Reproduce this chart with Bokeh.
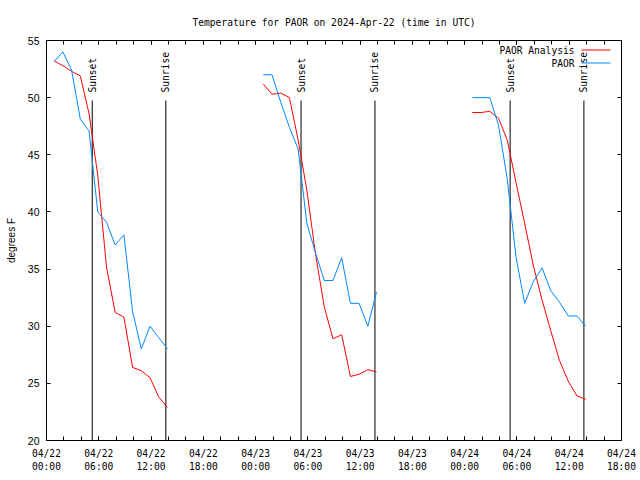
import math
import pandas as pd
from bokeh.plotting import figure
from bokeh.models import (FixedTicker, Range1d, LinearAxis, DatetimeAxis, Label,
                          Arrow, ColumnDataSource)
from bokeh.core.properties import value
from bokeh.embed import file_html
from bokeh.resources import INLINE

# ---------------- data ----------------
days = ["2024-04-22", "2024-04-23", "2024-04-24"]
obs_hours = [0, 1, 2, 3, 4, 5, 6, 7, 8, 9, 10, 11, 12, 13]   # each reading at hh:53 UTC
obs_minute = 53

paor_obs_day1 = [53.2, 54.0, 52.4, 48.1, 47.1, 40.0, 39.1, 37.1, 38.0, 31.3, 28.0, 30.0, 29.0, 28.0]
paor_obs_day2 = [52.0, 52.0, 49.6, 47.4, 45.5, 39.0, 36.4, 34.0, 34.0, 36.0, 32.0, 32.0, 30.0, 33.0]
paor_obs_day3 = [50.0, 50.0, 50.0, 47.6, 42.9, 36.1, 32.0, 33.9, 35.1, 33.1, 32.1, 30.9, 30.9, 30.0]

paor_analysis_day1 = [53.2, 52.8, 52.3, 51.9, 48.6, 43.2, 35.2, 31.2, 30.8, 26.4, 26.1, 25.5, 23.8, 22.9]
paor_analysis_day2 = [51.2, 50.3, 50.4, 50.0, 46.3, 41.9, 36.3, 31.7, 28.9, 29.25, 25.6, 25.8, 26.2, 26.0]
paor_analysis_day3 = [48.7, 48.7, 48.8, 48.2, 46.3, 42.6, 39.0, 35.3, 32.3, 29.6, 27.0, 25.2, 23.9, 23.6]

sunset_times = ["2024-04-22 05:15", "2024-04-23 05:13", "2024-04-24 05:13"]
sunrise_times = ["2024-04-22 13:42", "2024-04-23 13:42", "2024-04-24 13:41"]

x_start, x_end = "2024-04-22 00:00", "2024-04-24 18:00"
y_ticks = [20, 25, 30, 35, 40, 45, 50, 55]
title_text = "Temperature for PAOR on 2024-Apr-22 (time in UTC)"
series_names = ["PAOR Analysis", "PAOR"]

# ---------------- styling ----------------
MONO = "DejaVu Sans Mono"
SANS = "Liberation Sans"
RED = "#ff0000"
BLUE = "#0088ff"

obs_series = [paor_obs_day1, paor_obs_day2, paor_obs_day3]
ana_series = [paor_analysis_day1, paor_analysis_day2, paor_analysis_day3]

def ms(ts):
    return float(pd.Timestamp(ts).value // 10**6)

t0, t1 = pd.Timestamp(x_start), pd.Timestamp(x_end)
major = pd.date_range(t0, t1, freq="6h")
minor = pd.date_range(t0, t1, freq="2h")
major_ms = [ms(t) for t in major]
minor_ms = [ms(t) for t in minor]
x_labels = {ms(t): t.strftime("%m/%d") + "\n" + t.strftime("%H:%M") for t in major}

p = figure(width=640, height=480, x_axis_type="datetime",
           x_range=Range1d(t0.to_pydatetime(), t1.to_pydatetime()),
           y_range=Range1d(20, 55),
           output_backend="svg", toolbar_location=None,
           min_border_left=46, min_border_right=19,
           min_border_top=40, min_border_bottom=40)
p.background_fill_color = "white"
p.border_fill_color = "white"
p.outline_line_color = "black"
p.outline_line_width = 1
p.xgrid.visible = False
p.ygrid.visible = False

p.title.text = title_text
p.title.align = "center"
p.title.text_font = MONO
p.title.text_font_size = "9.6px"
p.title.text_font_style = "normal"
p.title.text_color = "black"
p.title.standoff = 25

xt = FixedTicker(ticks=major_ms, minor_ticks=minor_ms)
yt = FixedTicker(ticks=y_ticks, minor_ticks=[])

xa = p.xaxis[0]
xa.ticker = xt
xa.major_label_overrides = x_labels
xa.major_label_text_font = MONO
xa.major_label_text_font_size = "9.6px"
xa.major_label_text_color = "black"
xa.major_label_standoff = 7
xa.axis_line_color = None
xa.major_tick_in = 4
xa.major_tick_out = 0
xa.minor_tick_in = 4
xa.minor_tick_out = 0
xa.major_tick_line_color = "black"
xa.minor_tick_line_color = "black"

ya = p.yaxis[0]
ya.ticker = yt
ya.major_label_text_font = SANS
ya.major_label_text_font_size = "10.5px"
ya.major_label_text_color = "black"
ya.major_label_standoff = 7
ya.axis_line_color = None
ya.major_tick_in = 4
ya.major_tick_out = 0
ya.major_tick_line_color = "black"
ya.minor_tick_line_color = None
ya.axis_label = "degrees F"
ya.axis_label_text_font = SANS
ya.axis_label_text_font_size = "10px"
ya.axis_label_text_font_style = "normal"
ya.axis_label_text_color = "black"
ya.axis_label_standoff = 8

ra = LinearAxis(ticker=yt, major_label_overrides={v: "" for v in y_ticks},
                axis_line_color=None, major_tick_in=4, major_tick_out=0,
                major_tick_line_color="black",
                minor_tick_line_color=None, major_label_text_font_size="1px")
p.add_layout(ra, "right")
ta = DatetimeAxis(ticker=xt, major_label_overrides={v: "" for v in major_ms},
                  axis_line_color=None, major_tick_in=4, major_tick_out=0,
                  minor_tick_in=4, minor_tick_out=0,
                  major_tick_line_color="black", minor_tick_line_color="black",
                  major_label_text_font_size="1px")
p.add_layout(ta, "above")

# sunset / sunrise markers
ev_times = [pd.Timestamp(t) for t in sunset_times + sunrise_times]
ev_text = ["Sunset"] * len(sunset_times) + ["Sunrise"] * len(sunrise_times)
ev = ColumnDataSource(dict(x=ev_times, y0=[20] * len(ev_times),
                           y1=[49.75] * len(ev_times), yt=[50.45] * len(ev_times),
                           text=ev_text))
p.segment(x0="x", y0="y0", x1="x", y1="y1", source=ev, line_color="black", line_width=1)
p.text(x="x", y="yt", text="text", source=ev, angle=math.pi / 2,
       text_align="left", text_baseline="middle",
       text_font=value(MONO), text_font_size="9.6px", text_color="black")

# series
for day, obs, ana in zip(days, obs_series, ana_series):
    times = [pd.Timestamp(day) + pd.Timedelta(hours=h, minutes=obs_minute) for h in obs_hours]
    src = ColumnDataSource(dict(t=times, obs=obs, ana=ana))
    p.line("t", "ana", source=src, line_color=RED, line_width=1)
    p.line("t", "obs", source=src, line_color=BLUE, line_width=1)

# legend (text to the left of the line sample, as in the reference)
for i, (name, col) in enumerate(zip(series_names, [RED, BLUE])):
    ysc = 390 - 13 * i
    p.add_layout(Label(x=528, y=ysc, x_units="screen", y_units="screen", text=name,
                       text_align="right", text_baseline="middle",
                       text_font=MONO, text_font_size="9.6px", text_color="black"))
    p.add_layout(Arrow(end=None, x_start=535, y_start=ysc + 0.5, x_end=564, y_end=ysc + 0.5,
                       start_units="screen", end_units="screen",
                       line_color=col, line_width=1))

open("out.html", "w").write(file_html(p, INLINE))
